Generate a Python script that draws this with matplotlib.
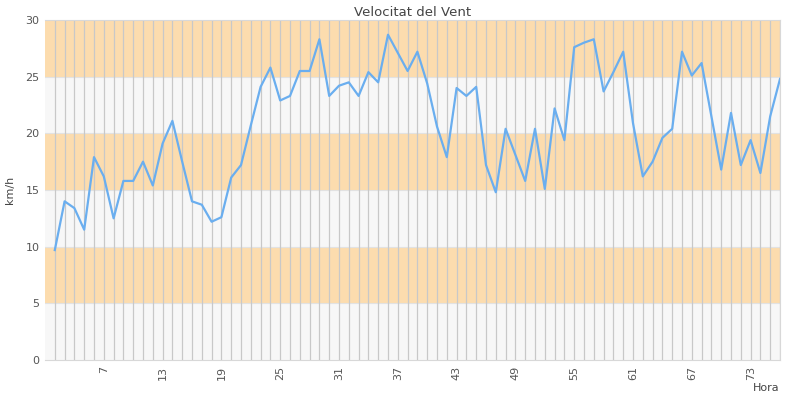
import matplotlib
matplotlib.use("Agg")
import matplotlib.pyplot as plt
import numpy as np

# Velocitat del vent per hora
hours = list(range(2, 77))
speed = [9.7, 14.0, 13.4, 11.5, 17.9, 16.2, 12.5, 15.8, 15.8, 17.5,
         15.4, 19.1, 21.1, 17.5, 14.0, 13.7, 12.2, 12.6, 16.1, 17.2,
         20.7, 24.1, 25.8, 22.9, 23.3, 25.5, 25.5, 28.3, 23.3, 24.2,
         24.5, 23.3, 25.4, 24.5, 28.7, 27.1, 25.5, 27.2, 24.4, 20.6,
         17.9, 24.0, 23.3, 24.1, 17.2, 14.8, 20.4, 18.1, 15.8, 20.4,
         15.1, 22.2, 19.4, 27.6, 28.0, 28.3, 23.7, 25.4, 27.2, 20.9,
         16.2, 17.5, 19.6, 20.4, 27.2, 25.1, 26.2, 21.5, 16.8, 21.8,
         17.2, 19.4, 16.5, 21.5, 24.8]
tick_hours = [7, 13, 19, 25, 31, 37, 43, 49, 55, 61, 67, 73]
band_edges = [0, 5, 10, 15, 20, 25, 30]
band_colors = ["#f7f7f7", "#fcdcae"]

fig = plt.figure(figsize=(8, 4), dpi=100)
ax = fig.add_axes([45 / 800, 40 / 400, 735 / 800, 340 / 400])

for i in range(len(band_edges) - 1):
    ax.axhspan(band_edges[i], band_edges[i + 1], color=band_colors[i % 2], lw=0, zorder=0)
for y in band_edges[1:-1]:
    ax.axhline(y, color="#e2e2e2", lw=0.8, zorder=0.5)
for h in range(2, 77):
    ax.axvline(h, color="#c8c8c8", lw=0.9, zorder=1)

ax.plot(hours, speed, color="#6aaeef", lw=1.6, zorder=3)

ax.set_xlim(1, 76)
ax.set_ylim(0, 30)
ax.set_xticks(tick_hours)
ax.set_xticklabels([str(t) for t in tick_hours], rotation=90)
ax.set_yticks(band_edges)
ax.tick_params(length=0, labelsize=8, colors="#555555", pad=4)

for s in ax.spines.values():
    s.set_color("#d8d8d8")
    s.set_linewidth(0.8)
ax.spines["left"].set_visible(False)

ax.set_title("Velocitat del Vent", fontsize=9.5, color="#444444", pad=3)
fig.text(10 / 800, 1 - 190 / 400, "km/h", rotation=90, fontsize=8,
         color="#444444", ha="center", va="center")
fig.text(766 / 800, 1 - 388 / 400, "Hora", fontsize=8, color="#444444",
         ha="center", va="center")

fig.savefig("out.png", dpi=100)
